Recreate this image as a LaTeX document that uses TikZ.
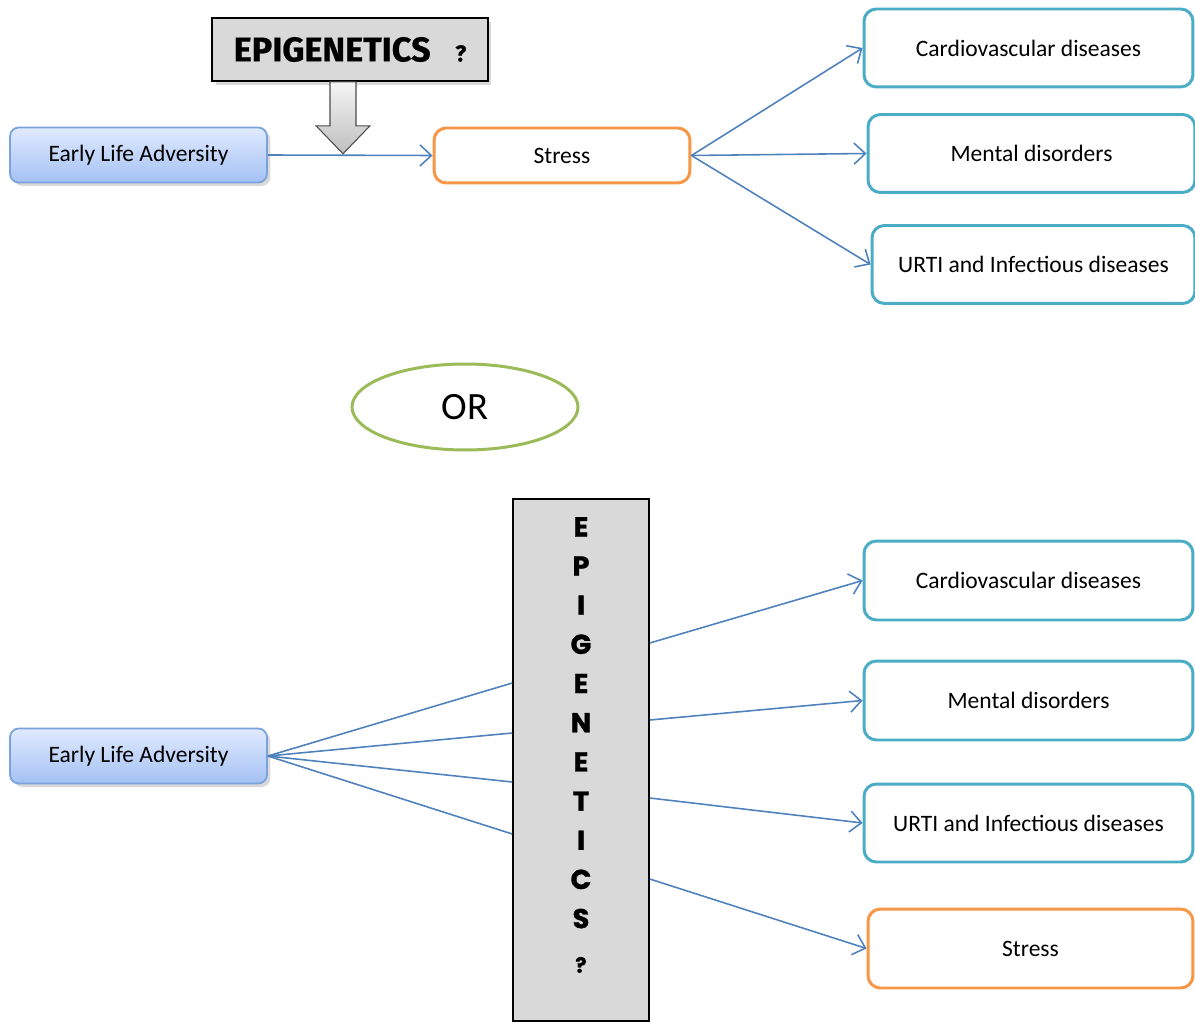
\documentclass[tikz,border=0pt]{standalone}
\usepackage{fontspec}
\setmainfont{Carlito}
\newfontfamily\epifont{Fira Sans}[BoldFeatures={FakeBold=0.6}]
\newfontfamily\letterfont{Poppins}[BoldFeatures={FakeBold=1.2}]
\usetikzlibrary{arrows.meta,shadows,shapes.geometric,calc}
\definecolor{linkblue}{HTML}{4F81BD}
\definecolor{advtop}{HTML}{E0EAFE}
\definecolor{advbot}{HTML}{A4C1F4}
\definecolor{advline}{HTML}{7AA2DC}
\definecolor{stressorange}{HTML}{F79646}
\definecolor{diseaseteal}{HTML}{4BACC6}
\definecolor{orgreen}{HTML}{9BBB59}
\definecolor{epigray}{HTML}{D9D9D9}
\begin{document}
\begin{tikzpicture}[x=0.02cm, y=-0.02cm,
    txt/.style={font=\fontsize{13.4}{16}\selectfont},
    advbox/.style={txt, draw=advline, line width=1pt, rounded corners=5pt, top color=advtop, bottom color=advbot,
      minimum width=5.14cm, minimum height=1.1cm, drop shadow={opacity=0.3, shadow xshift=2pt, shadow yshift=-2pt}},
    stressbox/.style={txt, draw=stressorange, line width=1.7pt, rounded corners=7pt, fill=white},
    disbox/.style={txt, draw=diseaseteal, line width=1.7pt, rounded corners=7pt, fill=white, minimum height=1.56cm},
    epibox/.style={draw=black, line width=0.9pt, fill=epigray},
    link/.style={linkblue, line width=0.9pt},
    linkarrow/.style={link, -{Straight Barb[length=6.5pt, width=12pt]}}]
  \useasboundingbox (0,0) rectangle (1195,1023);

  % upper scheme
  \node[epibox, minimum width=5.52cm, minimum height=1.26cm, drop shadow={opacity=0.3, shadow xshift=2pt, shadow yshift=-2pt}] (epi1) at (350,49.5)
    {\epifont\bfseries\fontsize{19.5}{22}\selectfont EPIGENETICS\hspace{14pt}{\fontsize{13}{14}\selectfont ?}};
  \draw[draw=black!70, line width=0.6pt, top color=gray!8, bottom color=gray!50]
    ($(epi1.south)+(-20,0)$) -- ++(26,0) -- ++(0,44) -- ++(14,0) -- ($(epi1.south)+(-7,72)$)
    -- ($(epi1.south)+(-34,44)$) -- ++(14,0) -- cycle;
  \node[advbox] (early1) at (138.5,155) {Early Life Adversity};
  \node[stressbox, minimum width=5.12cm, minimum height=1.1cm] (stress1) at (562,155.5) {Stress};
  \node[disbox, minimum width=6.58cm] (cardio1) at (1028.5,48) {Cardiovascular diseases};
  \node[disbox, minimum width=6.54cm] (mental1) at (1031.5,153.5) {Mental disorders};
  \node[disbox, minimum width=6.46cm] (urti1) at (1033.5,264.5) {URTI and Infectious diseases};
  \draw[linkarrow] (early1.east) -- (stress1.west);
  \draw[linkarrow] (stress1.east) -- (cardio1.west);
  \draw[linkarrow] (stress1.east) -- (mental1.west);
  \draw[linkarrow] (stress1.east) -- (urti1.west);

  \node[ellipse, draw=orgreen, line width=1.7pt, minimum width=4.52cm, minimum height=1.72cm,
    font=\fontsize{22}{26}\selectfont] (or) at (465,407) {OR};

  % lower scheme
  \node[epibox, minimum width=2.72cm, minimum height=10.44cm] (epi2) at (581,760) {};
  \node[align=center, font=\letterfont\bfseries\fontsize{15.5}{22.3}\selectfont] (epi2txt) at ($(epi2.center)+(0,-15)$)
    {E\\P\\I\\G\\E\\N\\E\\T\\I\\C\\S\\[3pt]{\fontsize{12}{13}\selectfont ?}};
  \node[advbox] (early2) at (138.5,756) {Early Life Adversity};
  \node[disbox, minimum width=6.58cm, minimum height=1.58cm] (cardio2) at (1028.5,580.5) {Cardiovascular diseases};
  \node[disbox, minimum width=6.58cm, minimum height=1.58cm] (mental2) at (1028.5,700.5) {Mental disorders};
  \node[disbox, minimum width=6.58cm] (urti2) at (1028.5,823) {URTI and Infectious diseases};
  \node[stressbox, minimum width=6.5cm, minimum height=1.58cm] (stress2) at (1030.5,948.5) {Stress};
  \draw[link] (early2.east) -- ($(epi2.west)+(0,-77)$);
  \draw[link] (early2.east) -- ($(epi2.west)+(0,-27)$);
  \draw[link] (early2.east) -- ($(epi2.west)+(0,22)$);
  \draw[link] (early2.east) -- ($(epi2.west)+(0,74)$);
  \draw[linkarrow] ($(epi2.east)+(0,-117)$) -- (cardio2.west);
  \draw[linkarrow] ($(epi2.east)+(0,-40)$) -- (mental2.west);
  \draw[linkarrow] ($(epi2.east)+(0,38)$) -- (urti2.west);
  \draw[linkarrow] ($(epi2.east)+(0,119)$) -- (stress2.west);
\end{tikzpicture}
\end{document}
